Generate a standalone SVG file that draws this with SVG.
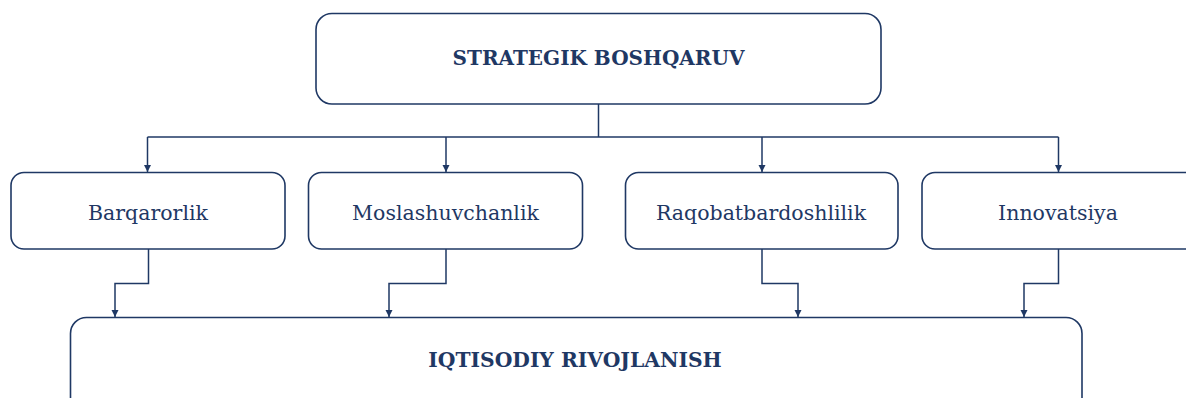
<svg xmlns="http://www.w3.org/2000/svg" width="1186" height="398" viewBox="0 0 1186 398">
<style>
.box{fill:#ffffff;stroke:#1f3864;stroke-width:1.6}
.t{font-family:"DejaVu Serif","Liberation Serif",serif;fill:#1f3864;text-anchor:middle;dominant-baseline:central}
.h{font-weight:bold;font-size:20px}
.n{font-size:20.5px}
.c{fill:none;stroke:#1f3864;stroke-width:1.5}
</style>
<defs>
<marker id="ar" markerWidth="8" markerHeight="8" refX="7" refY="4" orient="auto" markerUnits="userSpaceOnUse">
<path d="M0,0.5 L7,4 L0,7.5 Z" fill="#1f3864"/>
</marker>
</defs>
<rect width="1186" height="398" fill="#ffffff"/>
<g id="connectors">
<path class="c" d="M598.5,104 V137"/>
<path class="c" d="M147.5,137 H1058.5"/>
<path class="c" d="M147.5,137 V172" marker-end="url(#ar)"/>
<path class="c" d="M446,137 V172" marker-end="url(#ar)"/>
<path class="c" d="M762,137 V172" marker-end="url(#ar)"/>
<path class="c" d="M1058.5,137 V172" marker-end="url(#ar)"/>
<path class="c" d="M148.5,249 V283.5 H115 V317" marker-end="url(#ar)"/>
<path class="c" d="M446,249 V283.5 H389 V317" marker-end="url(#ar)"/>
<path class="c" d="M762,249 V283.5 H798 V317" marker-end="url(#ar)"/>
<path class="c" d="M1058.5,249 V283.5 H1024 V317" marker-end="url(#ar)"/>
</g>
<g id="node-strategik">
<rect class="box" x="316" y="13.5" width="565" height="90.5" rx="16"/>
<text class="t h" x="598.5" y="58">STRATEGIK BOSHQARUV</text>
</g>
<g id="node-barqarorlik">
<rect class="box" x="11" y="172.5" width="274" height="76.5" rx="13"/>
<text class="t n" x="148" y="212.5">Barqarorlik</text>
</g>
<g id="node-moslashuvchanlik">
<rect class="box" x="308.5" y="172.5" width="274" height="76.5" rx="13"/>
<text class="t n" x="445.5" y="212.5">Moslashuvchanlik</text>
</g>
<g id="node-raqobat">
<rect class="box" x="625.5" y="172.5" width="272.5" height="76.5" rx="13"/>
<text class="t n" x="761" y="212.5">Raqobatbardoshlilik</text>
</g>
<g id="node-innovatsiya">
<rect class="box" x="922" y="172.5" width="276" height="76.5" rx="13"/>
<text class="t n" x="1058" y="212.5">Innovatsiya</text>
</g>
<g id="node-iqtisodiy">
<rect class="box" x="70.5" y="317.5" width="1011.5" height="100" rx="16"/>
<text class="t h" x="575" y="360" style="font-size:20.3px">IQTISODIY RIVOJLANISH</text>
</g>
</svg>
